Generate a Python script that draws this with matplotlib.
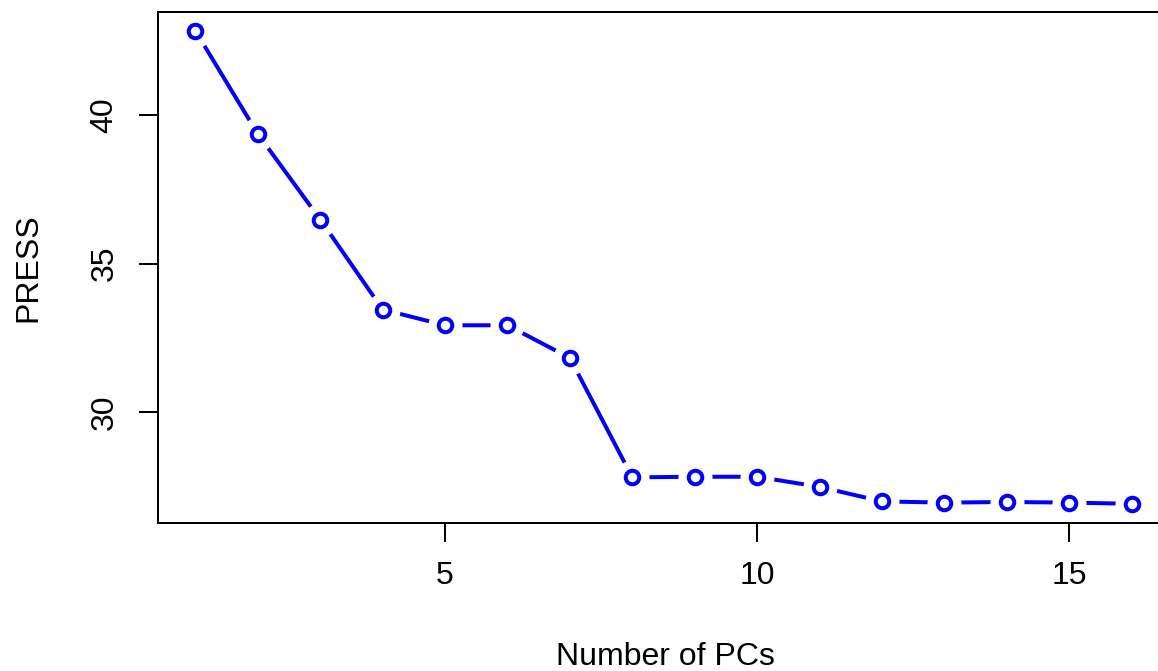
import matplotlib
matplotlib.use("Agg")
import matplotlib.pyplot as plt
import numpy as np

plt.rcParams['font.family'] = ['Liberation Sans', 'DejaVu Sans']

n_pcs = list(range(1, 17))
press = [42.83, 39.36, 36.48, 33.45, 32.92, 32.92, 31.82, 27.80,
         27.82, 27.82, 27.48, 26.99, 26.95, 26.97, 26.95, 26.91]
xticks = [5, 10, 15]
yticks = [30, 35, 40]

W, H = 1158, 671
fig = plt.figure(figsize=(W / 100, H / 100), dpi=100)
left, right, top, bottom = 158, 1169, 12, 523
ax = fig.add_axes([left / W, (H - bottom) / H, (right - left) / W, (bottom - top) / H])

px = 72 / 100  # points per pixel
blue = (0, 0, 1)
ax.plot(n_pcs, press, color=blue, lw=4 * px, solid_capstyle='butt', zorder=2)
# gaps around points (type = "b")
ax.plot(n_pcs, press, ls='none', marker='o', ms=34 * px, mfc='white', mec='none', zorder=2.1)
ax.plot(n_pcs, press, ls='none', marker='o', ms=13.5 * px, mfc='white', mec=blue,
        mew=4 * px, zorder=2.2)

ax.set_xlim(0.4, 16.6)
ax.set_ylim(26.263, 43.468)
ax.set_xticks(xticks)
ax.set_yticks(yticks)
for s in ax.spines.values():
    s.set_linewidth(2 * px)
    s.set_zorder(3)
ax.tick_params(length=19 * px, width=2 * px, labelsize=23, pad=14)
ax.tick_params(axis='y', labelrotation=90)
for lab in ax.get_yticklabels():
    lab.set_va('center')

fig.text(36 / W, (H - 267.5) / H, 'PRESS', rotation=90, rotation_mode='anchor',
         ha='center', va='baseline', fontsize=23)
fig.text(665 / W, (H - 665) / H, 'Number of PCs', ha='center', va='baseline', fontsize=23)

fig.savefig('out.png', dpi=100)
